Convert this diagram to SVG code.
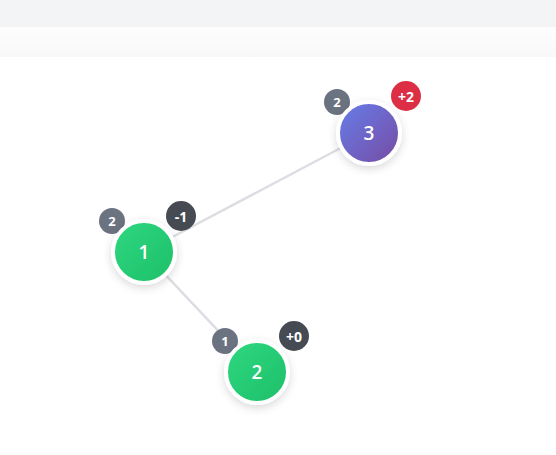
<svg xmlns="http://www.w3.org/2000/svg" width="556" height="455" viewBox="0 0 556 455">
<defs>
<linearGradient id="gGreen" x1="0" y1="0" x2="1" y2="1"><stop offset="0" stop-color="#2ed881"/><stop offset="1" stop-color="#1ebf68"/></linearGradient>
<linearGradient id="gPurple" x1="0" y1="0" x2="1" y2="1"><stop offset="0" stop-color="#667eea"/><stop offset="1" stop-color="#764ba2"/></linearGradient>
<linearGradient id="gBar" x1="0" y1="0" x2="0" y2="1"><stop offset="0" stop-color="#fdfdfd"/><stop offset="1" stop-color="#f8f8f9"/></linearGradient>
<filter id="sh" x="-50%" y="-50%" width="200%" height="200%"><feDropShadow dx="0" dy="3" stdDeviation="4" flood-color="#000" flood-opacity="0.15"/></filter>
</defs>
<style>
.edge{stroke:#dcdee3;stroke-width:2.5;fill:none}
.node{stroke:#fff;stroke-width:4}
.lbl{font-family:"Open Sans","Noto Sans",sans-serif;font-size:19px;font-weight:600;fill:#fff;text-anchor:middle;dominant-baseline:central}
.cnt{fill:#6b7280}
.dark{fill:#464a52}
.red{fill:#dc2f45}
.btxt{font-family:"Open Sans","Noto Sans",sans-serif;font-size:13px;font-weight:700;fill:#fff;text-anchor:middle;dominant-baseline:central}
.dtxt{font-family:"Open Sans","Noto Sans",sans-serif;font-size:14px;font-weight:700;fill:#fff;text-anchor:middle;dominant-baseline:central}
</style>
<rect x="0" y="0" width="556" height="455" fill="#fff"/>
<rect x="0" y="0" width="556" height="27" fill="#f3f4f6"/>
<rect x="0" y="27" width="556" height="30" fill="url(#gBar)"/>
<g id="connectors">
<line class="edge" x1="144" y1="252" x2="369" y2="133"/>
<line class="edge" x1="144" y1="252" x2="257" y2="372"/>
</g>
<g id="node-3">
<circle class="cnt" cx="337" cy="102" r="13"/>
<text class="btxt" x="337" y="102">2</text>
<circle class="node" cx="369" cy="133" r="31" fill="url(#gPurple)" filter="url(#sh)"/>
<text class="lbl" x="369" y="133">3</text>
<circle class="red" cx="406" cy="96" r="15"/>
<text class="dtxt" x="406" y="96">+2</text>
</g>
<g id="node-1">
<circle class="cnt" cx="112" cy="221" r="13"/>
<text class="btxt" x="112" y="221">2</text>
<circle class="node" cx="144" cy="252" r="31" fill="url(#gGreen)" filter="url(#sh)"/>
<text class="lbl" x="144" y="252">1</text>
<circle class="dark" cx="181" cy="216" r="15"/>
<text class="dtxt" x="181" y="216">-1</text>
</g>
<g id="node-2">
<circle class="cnt" cx="225" cy="341" r="13"/>
<text class="btxt" x="225" y="341">1</text>
<circle class="node" cx="257" cy="372" r="31" fill="url(#gGreen)" filter="url(#sh)"/>
<text class="lbl" x="257" y="372">2</text>
<circle class="dark" cx="294" cy="336" r="15"/>
<text class="dtxt" x="294" y="336">+0</text>
</g>
</svg>
